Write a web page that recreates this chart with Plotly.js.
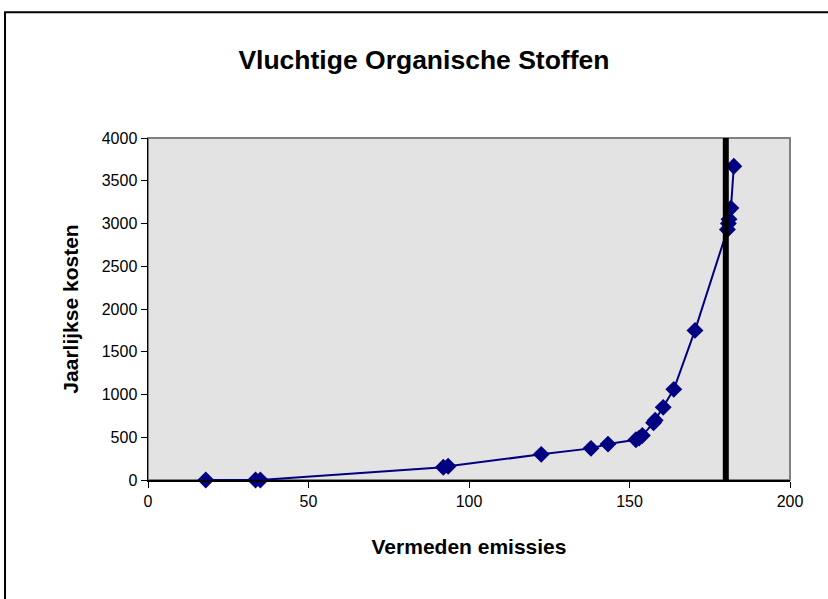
<!DOCTYPE html>
<html>
<head>
<meta charset="utf-8">
<script src="https://cdn.plot.ly/plotly-3.0.1.min.js"></script>
<style>html,body{margin:0;padding:0;background:#fff;}#chart{width:828px;height:599px;}</style>
</head>
<body>
<div id="chart"></div>
<script>
const emissies = [18, 33.5, 35, 92, 93.5, 122.5, 138, 143.3, 152, 153, 154, 157.5, 158, 160.5, 163.8, 170.4, 180.5, 180.8, 181, 181.6, 182.5];
const kosten   = [0, 0, 0, 150, 160, 300, 370, 420, 470, 490, 520, 670, 700, 850, 1060, 1750, 2930, 3000, 3050, 3180, 3670];
const grensX = [180];
const grensY = [0, 4070];
const xTicks = [0, 50, 100, 150, 200];
const yTicks = [0, 500, 1000, 1500, 2000, 2500, 3000, 3500, 4000];

const font = {family: 'Liberation Sans, Arial, sans-serif', color: '#000'};

const trace = {
  x: emissies, y: kosten, type: 'scatter', mode: 'lines+markers',
  line: {color: '#000080', width: 2},
  marker: {symbol: 'diamond', size: 13, color: '#000080'},
  cliponaxis: false,
  hoverinfo: 'skip'
};

const layout = {
  width: 828, height: 599,
  margin: {l: 148, r: 38, t: 138, b: 119},
  paper_bgcolor: '#ffffff',
  plot_bgcolor: '#e3e3e3',
  showlegend: false,
  font: Object.assign({size: 16}, font),
  title: {text: '<b>Vluchtige Organische Stoffen</b>', font: Object.assign({size: 26.5}, font), x: 0.512, xref: 'container', xanchor: 'center', y: 0.9, yanchor: 'middle', yref: 'container'},
  xaxis: {
    range: [0, 200], tickvals: xTicks, ticktext: xTicks.map(String),
    showgrid: false, zeroline: false, showline: true, linecolor: '#000', linewidth: 1.5,
    ticks: 'outside', ticklen: 6, tickcolor: '#000', tickfont: Object.assign({size: 16}, font),
    title: {text: '<b>Vermeden emissies</b>', font: Object.assign({size: 21}, font), standoff: 30}
  },
  yaxis: {
    range: [0, 4000], tickvals: yTicks, ticktext: yTicks.map(String),
    showgrid: false, zeroline: false, showline: true, linecolor: '#000', linewidth: 1.5,
    ticks: 'outside', ticklen: 6, tickcolor: '#000', tickfont: Object.assign({size: 16}, font),
    title: {text: '<b>Jaarlijkse kosten</b>', font: Object.assign({size: 21}, font), standoff: 17}
  },
  shapes: [
    {type: 'rect', xref: 'paper', yref: 'paper', x0: 0, x1: 1, y0: 0, y1: 1, line: {color: '#808080', width: 2}, layer: 'below'},
    {type: 'rect', xref: 'paper', yref: 'paper', x0: -0.2227, x1: 1.2, y0: -0.6, y1: 1.368, line: {color: '#000', width: 2}, fillcolor: 'rgba(0,0,0,0)', layer: 'below'},
    {type: 'line', xref: 'x', yref: 'y', x0: grensX[0], x1: grensX[0], y0: grensY[0], y1: grensY[1], line: {color: '#000', width: 6}, layer: 'above'}
  ]
};

Plotly.newPlot('chart', [trace], layout, {displayModeBar: false, staticPlot: true});
</script>
</body>
</html>
